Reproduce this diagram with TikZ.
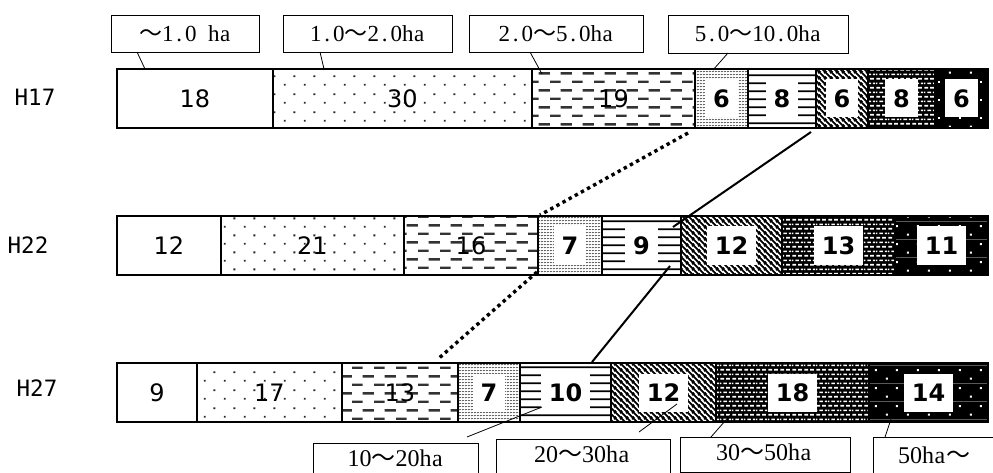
\documentclass[tikz,border=0pt]{standalone}
\usepackage{fontspec}
\setmainfont{Liberation Serif}
\newfontfamily\numfont{DejaVu Sans}
\newfontfamily\lblfont{DejaVu Sans Mono}
\newfontfamily\cjkfont{Noto Sans CJK JP}
\usetikzlibrary{patterns.meta,calc}
\ExplSyntaxOn
\NewDocumentCommand\hwchars{m}{\tl_map_inline:nn{#1}{\makebox[0.5em]{##1}}}
\ExplSyntaxOff
\newcommand\wv{{\cjkfont ～}}

\tikzdeclarepattern{name=sdots, type=colored,
  bottom left={(0pt,0pt)}, top right={(20pt,17.4pt)}, tile size={(20pt,17.4pt)},
  code={\fill[black!85] (4pt,3.35pt) rectangle (6pt,5.35pt) (14pt,12.05pt) rectangle (16pt,14.05pt);}}
\tikzdeclarepattern{name=hdash, type=colored,
  bottom left={(0pt,0pt)}, top right={(22pt,16.8pt)}, tile size={(22pt,16.8pt)},
  code={\fill[black!80] (0pt,3pt) rectangle (11pt,5.4pt) (11pt,11.4pt) rectangle (22pt,13.8pt);}}
\tikzdeclarepattern{name=ddots, type=colored,
  bottom left={(0pt,0pt)}, top right={(3.4pt,3.4pt)}, tile size={(3.4pt,3.4pt)},
  code={\fill[black!60] (1.7pt,1.7pt) circle (0.85pt);}}
\tikzdeclarepattern{name=hlines, type=colored,
  bottom left={(0pt,0pt)}, top right={(4pt,7.7pt)}, tile size={(4pt,7.7pt)},
  code={\fill[black] (0pt,2.85pt) rectangle (4pt,4.85pt);}}
\tikzdeclarepattern{name=diagl, type=colored,
  bottom left={(0pt,0pt)}, top right={(5.5pt,5.5pt)}, tile size={(5.5pt,5.5pt)},
  code={\draw[line width=1.9pt] (-1pt,6.5pt)--(6.5pt,-1pt) (-1pt,1pt)--(1pt,-1pt) (4.5pt,6.5pt)--(6.5pt,4.5pt);}}
\tikzdeclarepattern{name=wdash, type=colored,
  bottom left={(0pt,0pt)}, top right={(12pt,9.4pt)}, tile size={(12pt,9.4pt)},
  code={\fill[black] (-0.5pt,-0.5pt) rectangle (12.5pt,9.9pt);
        \fill[white] (0.5pt,1.5pt) rectangle (4.5pt,3.2pt) (6.5pt,1.5pt) rectangle (10.5pt,3.2pt)
          (3.5pt,6.2pt) rectangle (7.5pt,7.9pt) (9.5pt,6.2pt) rectangle (12pt,7.9pt) (0pt,6.2pt) rectangle (1.5pt,7.9pt);}}
\tikzdeclarepattern{name=bdots, type=colored,
  bottom left={(0pt,0pt)}, top right={(21pt,18pt)}, tile size={(21pt,18pt)},
  code={\fill[black] (-0.5pt,-0.5pt) rectangle (21.5pt,18.5pt);
        \fill[white] (4pt,3.5pt) rectangle (6pt,5.5pt) (14.5pt,12.5pt) rectangle (16.5pt,14.5pt);}}

\begin{document}
\begin{tikzpicture}[x=1pt,y=-1pt,
  seg/.style={draw, line width=1.5pt, inner sep=0pt, outer sep=0pt, minimum height=59pt, anchor=north west},
  p1/.style={fill=white},
  p2/.style={pattern=sdots},
  p3/.style={pattern=hdash},
  p4/.style={pattern=ddots},
  p5/.style={pattern=hlines},
  p6/.style={pattern=diagl},
  p7/.style={pattern=wdash},
  p8/.style={pattern=bdots},
  numA/.style={font=\numfont\fontsize{24}{26}\selectfont, inner sep=0pt},
  numB/.style={font=\numfont\bfseries\fontsize{24}{26}\selectfont, fill=white, inner xsep=8pt, inner ysep=0pt, minimum height=38pt},
  n1/.style={numA}, n2/.style={numA}, n3/.style={numA},
  n4/.style={numB}, n5/.style={numB}, n6/.style={numB}, n7/.style={numB}, n8/.style={numB},
  rowlbl/.style={font=\lblfont\fontsize{22.5}{24}\selectfont},
  callout/.style={draw, line width=0.8pt, inner sep=0pt, outer sep=0pt, anchor=north west},
  ctop/.style={font=\fontsize{23}{25}\selectfont},
  cbot/.style={font=\fontsize{24}{26}\selectfont},
  leader/.style={line width=0.8pt},
  dotline/.style={line width=3.4pt, dash pattern=on 3.4pt off 3.6pt},
  solidline/.style={line width=2pt}]
\useasboundingbox (0,0) rectangle (993,473);

% row labels
\node[rowlbl] (r17) at (35,97) {H17};
\node[rowlbl] (r22) at (28,245) {H22};
\node[rowlbl] (r27) at (37,388) {H27};

% H17
\foreach \i/\xa/\xb in {1/117/273,2/273/532,3/532/695,4/695/748,5/748/816,6/816/868,7/868/935,8/935/988}{
  \node[seg,p\i,minimum width={\xb-\xa}] (a\i) at (\xa,69) {};
}
% H22
\foreach \i/\xa/\xb in {1/117/221,2/221/404,3/404/538,4/538/602,5/602/681,6/681/782,7/782/895,8/895/988}{
  \node[seg,p\i,minimum width={\xb-\xa}] (b\i) at (\xa,216) {};
}
% H27
\foreach \i/\xa/\xb in {1/117/197,2/197/342,3/342/458,4/458/520,5/520/611,6/611/716,7/716/869,8/869/988}{
  \node[seg,p\i,minimum width={\xb-\xa}] (c\i) at (\xa,363) {};
}

% numbers
\foreach \i/\v in {1/18,2/30,3/19,4/6,5/8,6/6,7/8,8/6}{
  \node[n\i] (na\i) at (a\i.center) {\v};
}
\foreach \i/\v in {1/12,2/21,3/16,4/7,5/9,6/12,7/13,8/11}{
  \node[n\i] (nb\i) at (b\i.center) {\v};
}
\foreach \i/\v in {1/9,2/17,3/13,4/7,5/10,6/12,7/18,8/14}{
  \node[n\i] (nc\i) at (c\i.center) {\v};
}

% connecting lines between bars
\draw[dotline] ($(a4.south west)+(-7,5)$) -- ($(b4.north west)+(2,-1)$);
\draw[dotline] ($(b4.south west)+(-1,-3)$) -- ($(c4.north west)+(-20,-4)$);
\draw[solidline] ($(a6.south west)+(-5,4)$) -- ($(b5.north west)+(71,11)$);
\draw[solidline] ($(b5.south west)+(68,-9)$) -- ($(c5.north west)+(72,-1)$);

% top callouts
\node[callout,minimum width=148pt,minimum height=37pt,ctop] (k1) at (111,15) {\wv\hwchars{1.0}\hspace{0.5em}\hwchars{ha}};
\node[callout,minimum width=169pt,minimum height=37pt,ctop] (k2) at (283,15) {\hwchars{1.0}\wv\hwchars{2.0ha}};
\node[callout,minimum width=174pt,minimum height=37pt,ctop] (k3) at (469,15) {\hwchars{2.0}\wv\hwchars{5.0ha}};
\node[callout,minimum width=180pt,minimum height=38pt,ctop] (k4) at (668,15) {\hwchars{5.0}\wv\hwchars{10.0ha}};

\draw[leader] ($(k1.south west)+(26,0)$) -- ($(a1.north west)+(28,0)$);
\draw[leader] ($(k2.south west)+(37,0)$) -- ($(a2.north west)+(51,0)$);
\draw[leader] ($(k3.south west)+(61,0)$) -- ($(a3.north west)+(10,5)$);
\draw[leader] ($(k4.south west)+(60,0)$) -- ($(a4.north west)+(18,1)$);

% bottom callouts
\node[callout,minimum width=165pt,minimum height=40pt] (m1) at (313,443) {};
\node[callout,minimum width=174pt,minimum height=40pt] (m2) at (496,439) {};
\node[callout,minimum width=170pt,minimum height=35pt] (m3) at (680,437) {};
\node[callout,minimum width=130pt,minimum height=40pt] (m4) at (873,437) {};
\node[cbot] (m1t) at (395.5,458) {\hwchars{10}\wv\hwchars{20ha}};
\node[cbot] (m2t) at (582,454) {\hwchars{20}\wv\hwchars{30ha}};
\node[cbot] (m3t) at (764,452) {\hwchars{30}\wv\hwchars{50ha}};
\node[cbot] (m4t) at (934,455) {\hwchars{50ha}\wv};

\draw[leader] ($(m1.north west)+(154,-6)$) -- ($(c5.north west)+(22,44)$);
\draw[leader] ($(m2.north west)+(143,-7)$) -- ($(c6.north west)+(66,41)$);
\draw[leader] ($(m3.north west)+(31,0)$) -- ($(c7.north west)+(16,50)$);
\draw[leader] ($(m4.north west)+(12,0)$) -- ($(c8.north west)+(22,56)$);
\end{tikzpicture}
\end{document}
